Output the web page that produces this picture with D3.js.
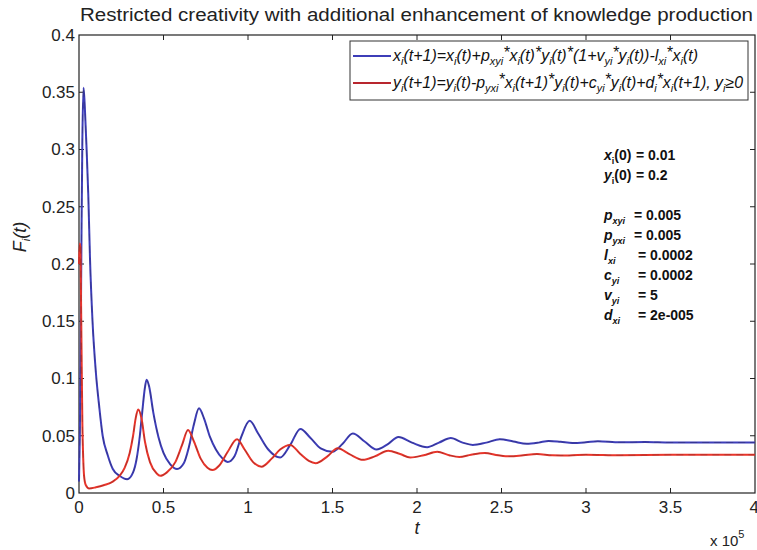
<!DOCTYPE html>
<html>
<head>
<meta charset="utf-8">
<script src="https://cdn.jsdelivr.net/npm/d3@7"></script>
<style>
  body { margin: 0; background: #fff; }
  text { font-family: "Liberation Sans", Arial, sans-serif; }
</style>
</head>
<body>
<svg id="chart"></svg>
<script>
// Data (t in units of 1e5)
const tBlue = [0, 0.005, 0.01, 0.015, 0.02, 0.027, 0.035, 0.045, 0.055, 0.065, 0.08, 0.1, 0.12, 0.14, 0.17, 0.2, 0.24, 0.285, 0.32, 0.34, 0.36, 0.375, 0.39, 0.4, 0.415, 0.44, 0.47, 0.5, 0.54, 0.58, 0.62, 0.65, 0.68, 0.71, 0.74, 0.775, 0.81, 0.85, 0.88, 0.92, 0.96, 1.01, 1.06, 1.12, 1.19, 1.25, 1.31, 1.37, 1.43, 1.5, 1.56, 1.62, 1.69, 1.76, 1.83, 1.89, 1.97, 2.06, 2.13, 2.2, 2.27, 2.33, 2.41, 2.49, 2.57, 2.65, 2.72, 2.78, 2.85, 2.92, 3.0, 3.07, 3.2, 3.35, 3.5, 4.0];
const xBlue = [0.01, 0.05, 0.13, 0.23, 0.31, 0.354, 0.335, 0.3, 0.26, 0.205, 0.15, 0.105, 0.075, 0.05, 0.033, 0.021, 0.015, 0.012, 0.018, 0.029, 0.05, 0.072, 0.092, 0.099, 0.093, 0.07, 0.049, 0.035, 0.025, 0.021, 0.026, 0.04, 0.06, 0.074, 0.065, 0.049, 0.038, 0.03, 0.027, 0.032, 0.049, 0.063, 0.052, 0.038, 0.031, 0.042, 0.056, 0.048, 0.039, 0.036, 0.043, 0.052, 0.045, 0.038, 0.043, 0.049, 0.044, 0.04, 0.044, 0.048, 0.044, 0.042, 0.044, 0.047, 0.045, 0.043, 0.044, 0.0455, 0.0447, 0.0437, 0.0443, 0.0452, 0.0443, 0.0445, 0.0441, 0.0441];

const tRed = [0, 0.004, 0.008, 0.012, 0.016, 0.02, 0.025, 0.03, 0.04, 0.06, 0.1, 0.15, 0.2, 0.24, 0.27, 0.3, 0.32, 0.335, 0.35, 0.37, 0.39, 0.42, 0.46, 0.48, 0.52, 0.57, 0.61, 0.645, 0.68, 0.72, 0.76, 0.79, 0.83, 0.88, 0.935, 0.98, 1.03, 1.08, 1.14, 1.19, 1.25, 1.31, 1.36, 1.4, 1.47, 1.53, 1.6, 1.68, 1.75, 1.83, 1.9, 1.96, 2.04, 2.12, 2.19, 2.25, 2.32, 2.4, 2.48, 2.55, 2.63, 2.71, 2.8, 2.9, 3.0, 3.2, 3.5, 4.0];
const yRed = [0.2, 0.218, 0.215, 0.17, 0.11, 0.06, 0.03, 0.015, 0.007, 0.004, 0.005, 0.007, 0.01, 0.015, 0.022, 0.035, 0.05, 0.065, 0.073, 0.065, 0.045, 0.027, 0.017, 0.015, 0.018, 0.027, 0.042, 0.055, 0.045, 0.03, 0.022, 0.02, 0.024, 0.036, 0.047, 0.038, 0.027, 0.023, 0.03, 0.038, 0.042, 0.034, 0.028, 0.026, 0.032, 0.039, 0.034, 0.029, 0.032, 0.037, 0.034, 0.031, 0.033, 0.036, 0.033, 0.0315, 0.0335, 0.035, 0.033, 0.032, 0.033, 0.034, 0.033, 0.0328, 0.0335, 0.033, 0.0333, 0.0333];

const xTicks = [0, 0.5, 1, 1.5, 2, 2.5, 3, 3.5, 4];
const yTicks = [0, 0.05, 0.1, 0.15, 0.2, 0.25, 0.3, 0.35, 0.4];

const legendLabels = [
  "x_{i}(t+1)=x_{i}(t)+p_{xyi}^{*}x_{i}(t)^{*}y_{i}(t)^{*}(1+v_{yi}^{*}y_{i}(t))-l_{xi}^{*}x_{i}(t)",
  "y_{i}(t+1)=y_{i}(t)-p_{yxi}^{*}x_{i}(t+1)^{*}y_{i}(t)+c_{yi}^{*}y_{i}(t)+d_{i}^{*}x_{i}(t+1), y_{i}≥0"
];
const paramNames = ["x_{i}(0)", "y_{i}(0)", "", "p_{xyi}", "p_{yxi}", "l_{xi}", "c_{yi}", "v_{yi}", "d_{xi}"];
const paramValues = ["= 0.01", "= 0.2", "", "= 0.005", "= 0.005", "= 0.0002", "= 0.0002", "= 5", "= 2e-005"];

// Constants
const width = 757;
const height = 550;
const margin = { left: 79, right: 2, top: 35, bottom: 57 };
const visWidth = width - margin.left - margin.right;
const visHeight = height - margin.top - margin.bottom;

const blue = "#3d3db8";
const red = "#e8352b";

const svg = d3.select('#chart')
  .attr('width', width)
  .attr('height', height);

const chart = svg.append('g')
  .attr('transform', `translate(${margin.left},${margin.top})`);

const x = d3.scaleLinear().domain([0, 4]).range([0, visWidth]);
const y = d3.scaleLinear().domain([0, 0.4]).range([visHeight, 0]);

// rich text: _{..} subscript, ^{..} superscript
function richText(sel, str, subSize) {
  const parts = str.split(/([_^]\{[^}]*\})/).filter(s => s.length);
  let shift = 0;
  parts.forEach(p => {
    let target = 0, txt = p, size = null;
    if (p[0] === '_') { target = 4; txt = p.slice(2, -1); size = subSize; }
    else if (p[0] === '^') { target = -3; txt = p.slice(2, -1); size = null; }
    const ts = sel.append('tspan').attr('dy', target - shift).text(txt);
    if (size) ts.attr('font-size', size);
    shift = target;
  });
  if (shift !== 0) sel.append('tspan').attr('dy', -shift).text('\u200b');
}

// axes (boxed, ticks inward)
chart.append('rect')
  .attr('width', visWidth).attr('height', visHeight)
  .attr('fill', 'none').attr('stroke', '#222').attr('stroke-width', 1.2);

const tickLen = 5;
chart.append('g').selectAll('line').data(xTicks.slice(1, -1)).join('line')
  .attr('x1', d => x(d)).attr('x2', d => x(d))
  .attr('y1', visHeight).attr('y2', visHeight - tickLen)
  .attr('stroke', '#222');
chart.append('g').selectAll('line').data(xTicks.slice(1, -1)).join('line')
  .attr('x1', d => x(d)).attr('x2', d => x(d))
  .attr('y1', 0).attr('y2', tickLen)
  .attr('stroke', '#222');
chart.append('g').selectAll('line').data(yTicks.slice(1, -1)).join('line')
  .attr('x1', 0).attr('x2', tickLen)
  .attr('y1', d => y(d)).attr('y2', d => y(d))
  .attr('stroke', '#222');
chart.append('g').selectAll('line').data(yTicks.slice(1, -1)).join('line')
  .attr('x1', visWidth).attr('x2', visWidth - tickLen)
  .attr('y1', d => y(d)).attr('y2', d => y(d))
  .attr('stroke', '#222');

chart.append('g').selectAll('text').data(xTicks).join('text')
  .attr('x', d => x(d)).attr('y', visHeight + 20)
  .attr('text-anchor', d => d === 4 ? 'end' : 'middle').attr('dx', d => d === 4 ? 4 : 0)
  .attr('font-size', 17).attr('fill', '#222')
  .text(d => d);
chart.append('g').selectAll('text').data(yTicks).join('text')
  .attr('x', -4).attr('y', d => y(d)).attr('dy', '0.35em')
  .attr('text-anchor', 'end').attr('font-size', 17).attr('fill', '#222')
  .text(d => d);

// lines
const lineGen = d3.line()
  .x(d => x(d[0])).y(d => y(d[1]))
  .curve(d3.curveMonotoneX);

const blueData = tBlue.map((t, i) => [t, xBlue[i]]);
const redData = tRed.map((t, i) => [t, yRed[i]]);

[[blueData, blue], [redData, red]].forEach(([data, col]) => {
  chart.append('path').datum(data)
    .attr('d', lineGen).attr('fill', 'none')
    .attr('stroke', col).attr('stroke-width', 2);
  chart.append('path').datum(data)
    .attr('d', lineGen).attr('fill', 'none')
    .attr('stroke', '#222').attr('stroke-width', 1)
    .attr('stroke-opacity', 0.25).attr('stroke-dasharray', '7,5');
});

// title
svg.append('text')
  .attr('x', 80).attr('y', 21)
  .attr('font-size', 17.5).attr('fill', '#222')
  .attr('textLength', 673).attr('lengthAdjust', 'spacingAndGlyphs')
  .text('Restricted creativity with additional enhancement of knowledge production');

// legend
const lg = svg.append('g');
lg.append('rect')
  .attr('x', 350).attr('y', 41).attr('width', 398).attr('height', 59)
  .attr('fill', '#fff').attr('stroke', '#333').attr('stroke-width', 1);
legendLabels.forEach((lab, i) => {
  const yy = 56 + i * 27;
  lg.append('line')
    .attr('x1', 353).attr('x2', 391).attr('y1', yy).attr('y2', yy)
    .attr('stroke', i === 0 ? blue : '#b8262e').attr('stroke-width', 1.8);
  const t = lg.append('text')
    .attr('x', 393).attr('y', yy + 5)
    .attr('font-size', 16).attr('font-style', 'italic').attr('fill', '#111')
    .attr('textLength', i === 0 ? 305 : 350).attr('lengthAdjust', 'spacingAndGlyphs');
  richText(t, lab, 11);
});

// parameter annotations
paramNames.forEach((p, i) => {
  if (!p) return;
  const yy = 160 + i * 20;
  const t = svg.append('text')
    .attr('x', 604).attr('y', yy)
    .attr('font-size', 14).attr('font-weight', 'bold').attr('font-style', 'italic').attr('fill', '#111');
  richText(t, p, 9);
  if (i < 2) {
    t.attr('font-style', null);
    t.selectAll('tspan').filter((d, j) => j === 0).attr('font-style', 'italic');
  }
  svg.append('text')
    .attr('x', i < 2 ? 636 : (i < 5 ? 634 : 638))
    .attr('y', yy)
    .attr('font-size', 14).attr('font-weight', 'bold').attr('fill', '#111')
    .text(paramValues[i]);
});

// axis labels
svg.append('text')
  .attr('x', 417).attr('y', 534)
  .attr('text-anchor', 'middle').attr('font-size', 18).attr('font-style', 'italic').attr('fill', '#222')
  .text('t');

const yl = svg.append('text')
  .attr('transform', 'translate(26,237) rotate(-90)')
  .attr('text-anchor', 'middle').attr('font-size', 18).attr('font-style', 'italic').attr('fill', '#222');
richText(yl, 'F_{i}(t)', 11);

const ex = svg.append('text')
  .attr('x', 710).attr('y', 546)
  .attr('font-size', 15).attr('fill', '#222');
ex.append('tspan').text('x 10');
ex.append('tspan').attr('dy', -8).attr('font-size', 11).text('5');
</script>
</body>
</html>
